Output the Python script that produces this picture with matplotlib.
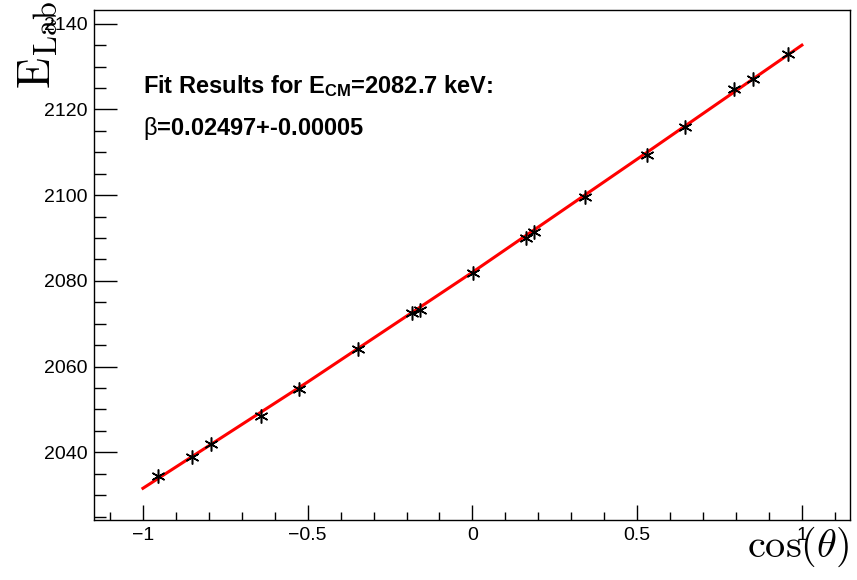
import matplotlib
matplotlib.use("Agg")
import matplotlib.pyplot as plt
from matplotlib.ticker import MultipleLocator

# data
cos_theta = [-0.955, -0.850, -0.794, -0.643, -0.526, -0.348, -0.182, -0.159,
             0.003, 0.162, 0.187, 0.342, 0.531, 0.644, 0.794, 0.853, 0.958]
e_lab = [2034.5, 2038.8, 2041.9, 2048.5, 2054.8, 2064.1, 2072.4, 2073.3,
         2081.9, 2090.1, 2091.4, 2099.6, 2109.3, 2115.9, 2124.8, 2127.0, 2133.0]

# fitted curve (red) read at a few abscissae
fit_x = [-1.0, -0.5, 0.0, 0.5, 1.0]
fit_y = [2031.6, 2056.4, 2082.0, 2108.4, 2135.0]

fit_title = r"Fit Results for E$_{\mathbf{CM}}$=2082.7 keV:"
fit_beta = r"$\mathrm{\beta}$=0.02497+-0.00005"

plt.rcParams["font.family"] = ["Liberation Sans", "DejaVu Sans"]
plt.rcParams["mathtext.rm"] = "Liberation Sans"
plt.rcParams["mathtext.bf"] = "Liberation Sans:bold"
plt.rcParams["mathtext.it"] = "Liberation Sans:italic"

W, H = 857, 580
fig = plt.figure(figsize=(W / 100, H / 100), dpi=100)
ax = fig.add_axes([93.5 / W, 1 - 520 / H, (850 - 93.5) / W, (520 - 10) / H])

ax.plot(fit_x, fit_y, color="#ff0000", lw=2.2, zorder=2)
ax.plot(cos_theta, e_lab, ls="none", marker=(6, 2, 0), ms=10, mew=1.1,
        color="black", zorder=3)

ax.set_xlim(-1.15, 1.146)
ax.set_ylim(2024.2, 2143.2)

ax.xaxis.set_major_locator(MultipleLocator(0.5))
ax.xaxis.set_minor_locator(MultipleLocator(0.1))
ax.yaxis.set_major_locator(MultipleLocator(20))
ax.yaxis.set_minor_locator(MultipleLocator(5))
ax.xaxis.set_major_formatter(plt.FuncFormatter(lambda v, p: ("%g" % v).replace("-", "\u2212")))
ax.yaxis.set_major_formatter(plt.FuncFormatter(lambda v, p: "%d" % v))

ax.tick_params(axis="both", which="both", direction="in", top=False, right=False,
               width=1.0, color="black", labelsize=14)
ax.tick_params(axis="y", which="major", length=16.5, pad=4)
ax.tick_params(axis="y", which="minor", length=8.5)
ax.tick_params(axis="x", which="major", length=11, pad=5)
ax.tick_params(axis="x", which="minor", length=5.6)
for s in ax.spines.values():
    s.set_linewidth(1.0)
    s.set_color("black")

ax.text(143, H - 92.7, fit_title, transform=None, fontsize=17, fontweight="bold",
        math_fontfamily="custom")
ax.text(143, H - 135, fit_beta, transform=None, fontsize=17, fontweight="bold",
        math_fontfamily="custom")

fig.text(38.5 / W, 1 - 1 / H, r"$\mathrm{E}_{\mathrm{Lab}}$", rotation=90,
         ha="center", va="top", fontsize=33, math_fontfamily="cm")
fig.text(849 / W, 1 - 557 / H, r"$\cos(\theta)$", ha="right", va="baseline",
         fontsize=29, math_fontfamily="cm")

fig.savefig("out.png", dpi=100)
